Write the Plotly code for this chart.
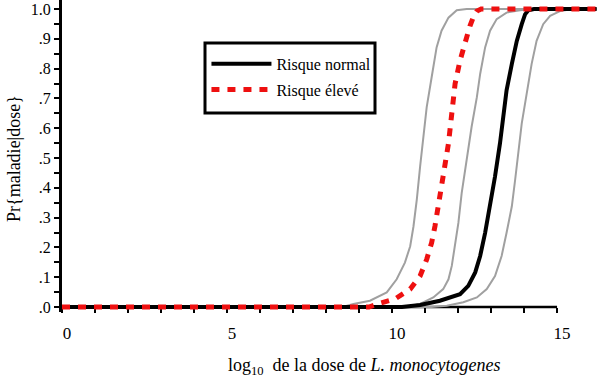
import plotly.graph_objects as go

# ---- data ----
gray_lo_x = [0, 8.5, 8.83, 9.33, 9.84, 10.14, 10.39, 10.55, 10.65, 10.75, 10.85, 10.95, 11.05, 11.2, 11.35, 11.5, 11.71, 11.96, 12.26, 16.2]
gray_lo_y = [0, 0, 0.01, 0.021, 0.049, 0.093, 0.149, 0.204, 0.271, 0.36, 0.471, 0.582, 0.671, 0.771, 0.871, 0.927, 0.971, 0.996, 1.0, 1.0]

red_x = [0, 9.3, 9.64, 10.09, 10.55, 10.85, 11.05, 11.2, 11.3, 11.4, 11.5, 11.61, 11.71, 11.81, 11.91, 12.06, 12.21, 12.36, 12.48, 12.57, 12.7, 16.2]
red_y = [0, 0, 0.013, 0.027, 0.06, 0.104, 0.16, 0.216, 0.271, 0.338, 0.404, 0.471, 0.549, 0.649, 0.749, 0.827, 0.893, 0.943, 0.977, 0.993, 1.0, 1.0]

gray_mid_x = [0, 10.4, 10.85, 11.25, 11.55, 11.71, 11.81, 11.91, 12.01, 12.11, 12.26, 12.41, 12.57, 12.67, 12.82, 12.97, 13.17, 13.47, 13.88, 14.2, 16.2]
gray_mid_y = [0, 0, 0.01, 0.032, 0.06, 0.093, 0.138, 0.204, 0.282, 0.382, 0.493, 0.604, 0.704, 0.782, 0.871, 0.927, 0.966, 0.988, 0.996, 1.0, 1.0]

black_x = [0, 10.3, 10.85, 11.45, 12.06, 12.31, 12.52, 12.67, 12.82, 12.97, 13.12, 13.27, 13.37, 13.47, 13.63, 13.78, 13.93, 14.03, 14.13, 14.3, 16.2]
black_y = [0, 0, 0.007, 0.021, 0.043, 0.071, 0.116, 0.171, 0.249, 0.338, 0.438, 0.549, 0.649, 0.727, 0.816, 0.893, 0.949, 0.982, 0.996, 1.0, 1.0]

gray_hi_x = [0, 11.2, 11.66, 12.16, 12.57, 12.87, 13.12, 13.32, 13.47, 13.63, 13.73, 13.83, 13.93, 14.08, 14.23, 14.38, 14.58, 14.79, 15.09, 15.49, 16.2]
gray_hi_y = [0, 0, 0.004, 0.016, 0.032, 0.06, 0.104, 0.171, 0.249, 0.338, 0.427, 0.527, 0.616, 0.716, 0.816, 0.893, 0.949, 0.977, 0.993, 1.0, 1.0]

x_tick_vals = list(range(0, 16))
x_tick_text = ["0", "", "", "", "", "5", "", "", "", "", "10", "", "", "", "", "15"]
y_tick_vals = [0, 0.1, 0.2, 0.3, 0.4, 0.5, 0.6, 0.7, 0.8, 0.9, 1.0]
y_tick_text = [".0", ".1", ".2", ".3", ".4", ".5", ".6", ".7", ".8", ".9", "1.0"]

name_normal = "Risque normal"
name_eleve = "Risque élevé"

FONT = "Liberation Serif, Times New Roman, serif"
GRAY = "rgb(160,160,160)"
RED = "rgb(238,16,16)"

fig = go.Figure()
for gx, gy in [(gray_lo_x, gray_lo_y), (gray_mid_x, gray_mid_y), (gray_hi_x, gray_hi_y)]:
    fig.add_trace(go.Scatter(x=gx, y=gy, mode="lines", line=dict(color=GRAY, width=2),
                             showlegend=False, hoverinfo="skip"))
fig.add_trace(go.Scatter(x=black_x, y=black_y, mode="lines", name=name_normal, legendgroup="a",
                         line=dict(color="black", width=4)))
fig.add_trace(go.Scatter(x=red_x, y=red_y, mode="lines", name=name_eleve, legendgroup="b",
                         line=dict(color=RED, width=5, dash="8px,8px")))

W, H = 597, 383
ML, MB = 62, 71
plot_h = H - MB

fig.update_layout(
    width=W, height=H,
    margin=dict(l=ML, r=0, t=0, b=MB, pad=0),
    paper_bgcolor="white", plot_bgcolor="white",
    font=dict(family=FONT, color="black", size=16),
    showlegend=True,
    legend=dict(x=0.27, y=0.85, xanchor="left", yanchor="top",
                bgcolor="rgba(255,255,255,0)", borderwidth=0,
                itemwidth=60, tracegroupgap=2, traceorder="grouped",
                font=dict(family=FONT, size=16, color="black")),
    xaxis=dict(range=[0, 16.21], tickvals=x_tick_vals, ticktext=x_tick_text,
               ticks="outside", ticklen=5, tickwidth=2, tickcolor="black",
               showline=False, showgrid=False, zeroline=False,
               anchor="free", position=5 / plot_h,
               ticklabelshift=5, ticklabelstandoff=6,
               tickfont=dict(family=FONT, size=17, color="black"),
               layer="below traces"),
    yaxis=dict(range=[-5 / 298, 1 + 9 / 298], tickvals=y_tick_vals, ticktext=y_tick_text,
               ticks="outside", ticklen=5, tickwidth=2, tickcolor="black",
               minor=dict(tick0=0, dtick=0.05, ticks="outside", ticklen=5, tickwidth=2, tickcolor="black"),
               showline=True, linewidth=3, linecolor="black",
               showgrid=False, zeroline=False,
               tickfont=dict(family=FONT, size=16, color="black"),
               layer="below traces"),
)

# x axis line from 0 to the last tick
fig.add_shape(type="line", xref="x", yref="y", x0=x_tick_vals[0], x1=x_tick_vals[-1], y0=0, y1=0,
              line=dict(color="black", width=2.5), layer="below")

# legend frame
fig.add_shape(type="rect", xref="paper", yref="paper",
              x0=(205 - ML) / (W - ML), x1=(375 - ML) / (W - ML),
              y0=1 - 113 / plot_h, y1=1 - 43 / plot_h,
              line=dict(color="black", width=3), fillcolor="rgba(0,0,0,0)", layer="above")

fig.add_annotation(text="log<sub>10</sub>\u00a0\u00a0de la dose de <i>L. monocytogenes</i>",
                   xref="paper", yref="paper", x=(364 - ML) / (W - ML), y=(plot_h - 366) / plot_h,
                   xanchor="center", yanchor="middle", showarrow=False,
                   font=dict(family=FONT, size=18, color="black"))
fig.add_annotation(text="Pr{maladie|dose}", textangle=-90,
                   xref="paper", yref="paper", x=(14 - ML) / (W - ML), y=(plot_h - 159) / plot_h,
                   xanchor="center", yanchor="middle", showarrow=False,
                   font=dict(family=FONT, size=18, color="black"))

fig.write_html("out.html")
